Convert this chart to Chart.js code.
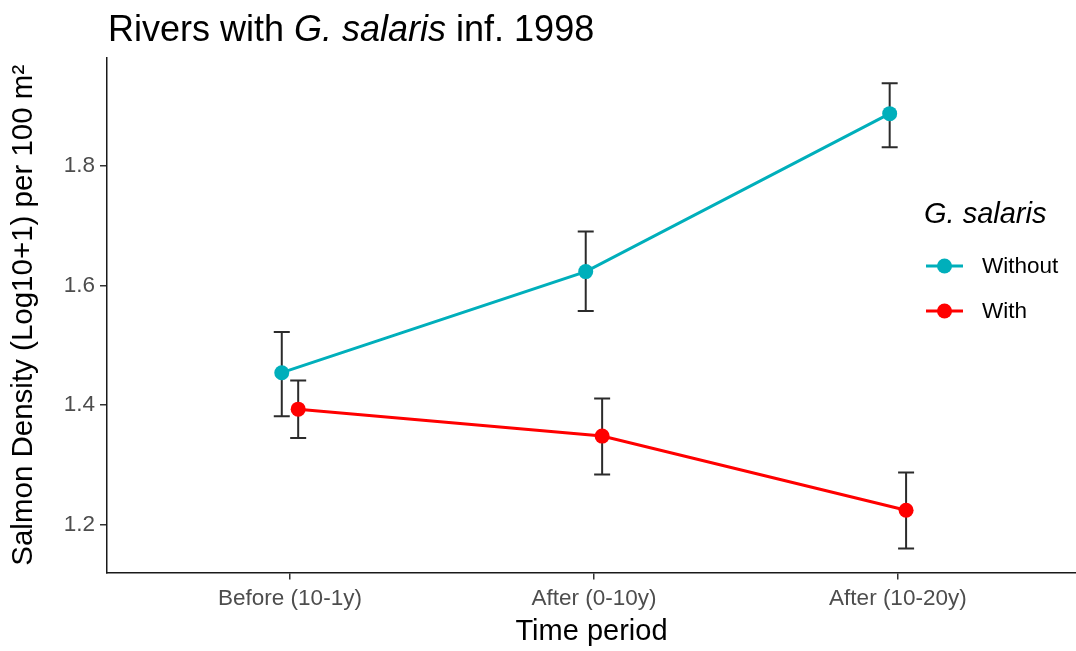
<!DOCTYPE html>
<html>
<head>
<meta charset="utf-8">
<script src="https://cdn.jsdelivr.net/npm/chart.js@4.4.1/dist/chart.umd.min.js"></script>
<style>
  html, body { margin: 0; padding: 0; background: #fff; overflow: hidden; }
  #wrap { width: 1076px; height: 651px; position: relative; }
</style>
</head>
<body>
<div id="wrap"><canvas id="c" width="1076" height="651"></canvas></div>
<script>
// Time periods on the x axis
const periods = ['Before (10-1y)', 'After (0-10y)', 'After (10-20y)'];
// Group names (legend)
const groups = ['Without', 'With'];

// Mean salmon density and error-bar limits, rivers without G. salaris
const withoutMean = [1.454, 1.623, 1.887];
const withoutLow  = [1.381, 1.557, 1.831];
const withoutHigh = [1.522, 1.690, 1.938];

// Mean salmon density and error-bar limits, rivers with G. salaris
const withMean = [1.393, 1.348, 1.224];
const withLow  = [1.345, 1.284, 1.160];
const withHigh = [1.441, 1.411, 1.287];

// Y axis tick values
const yTicks = [1.2, 1.4, 1.6, 1.8];

const colors = ['#00AFBB', '#FF0000'];
const dodge = [-0.027, 0.027];
const FONT = '"Liberation Sans", Arial, Helvetica, sans-serif';

const means = [withoutMean, withMean];
const lows = [withoutLow, withLow];
const highs = [withoutHigh, withHigh];

const datasets = groups.map((g, k) => ({
  label: g,
  data: means[k].map((v, i) => ({ x: i + 1 + dodge[k], y: v })),
  showLine: true,
  borderColor: colors[k],
  backgroundColor: colors[k],
  borderWidth: 3,
  pointRadius: 7.5,
  pointHoverRadius: 7.5,
  pointBorderWidth: 0,
  pointBackgroundColor: colors[k],
  order: k
}));

// Error bars drawn underneath lines and points
const errorBars = {
  id: 'errorBars',
  beforeDatasetsDraw(chart) {
    const { ctx, scales: { x, y } } = chart;
    ctx.save();
    ctx.strokeStyle = '#2b2b2b';
    ctx.lineWidth = 2;
    const half = 8;
    groups.forEach((g, k) => {
      periods.forEach((p, i) => {
        const px = x.getPixelForValue(i + 1 + dodge[k]);
        const y1 = y.getPixelForValue(lows[k][i]);
        const y2 = y.getPixelForValue(highs[k][i]);
        ctx.beginPath();
        ctx.moveTo(px, y1); ctx.lineTo(px, y2);
        ctx.moveTo(px - half, y1); ctx.lineTo(px + half, y1);
        ctx.moveTo(px - half, y2); ctx.lineTo(px + half, y2);
        ctx.stroke();
      });
    });
    ctx.restore();
  }
};

// Title with italic species name, and the legend inside the panel
const decorations = {
  id: 'decorations',
  afterDraw(chart) {
    const ctx = chart.ctx;
    ctx.save();
    ctx.fillStyle = '#000';
    ctx.textBaseline = 'alphabetic';
    ctx.textAlign = 'left';
    const parts = [
      ['Rivers with ', 'normal'],
      ['G. salaris', 'italic'],
      [' inf. 1998', 'normal']
    ];
    let tx = 108;
    parts.forEach(([t, st]) => {
      ctx.font = st + ' 36px ' + FONT;
      ctx.fillText(t, tx, 41);
      tx += ctx.measureText(t).width;
    });

    // legend
    ctx.font = 'italic 29px ' + FONT;
    ctx.fillText('G. salaris', 924, 223);
    groups.forEach((g, k) => {
      const ky = 266 + k * 45;
      ctx.strokeStyle = colors[k];
      ctx.lineWidth = 3;
      ctx.beginPath();
      ctx.moveTo(926, ky); ctx.lineTo(963, ky);
      ctx.stroke();
      ctx.fillStyle = colors[k];
      ctx.beginPath();
      ctx.arc(944.5, ky, 7.5, 0, Math.PI * 2);
      ctx.fill();
      ctx.fillStyle = '#000';
      ctx.font = '22.5px ' + FONT;
      ctx.textBaseline = 'middle';
      ctx.fillText(g, 982, ky + 1);
      ctx.textBaseline = 'alphabetic';
    });
    ctx.restore();
  }
};

new Chart(document.getElementById('c'), {
  type: 'scatter',
  data: { datasets },
  plugins: [errorBars, decorations],
  options: {
    responsive: false,
    animation: false,
    devicePixelRatio: 1,
    layout: { autoPadding: false, padding: { top: 58, left: 0, right: 0, bottom: 0 } },
    plugins: {
      legend: { display: false },
      title: { display: false },
      tooltip: { enabled: false }
    },
    scales: {
      x: {
        type: 'linear',
        min: 0.398,
        max: 3.586,
        afterBuildTicks: (s) => { s.ticks = periods.map((p, i) => ({ value: i + 1 })); },
        afterFit: (s) => { s.height = 78.5; },
        ticks: {
          autoSkip: false,
          maxRotation: 0,
          padding: 6,
          color: '#4D4D4D',
          font: { family: FONT, size: 22.5 },
          callback: (v) => periods[Math.round(v) - 1]
        },
        grid: {
          display: true,
          drawOnChartArea: false,
          drawTicks: true,
          tickLength: 7,
          color: '#333333',
          lineWidth: 1.5
        },
        border: { display: true, color: '#1a1a1a', width: 1.5 },
        title: {
          display: true,
          text: 'Time period',
          color: '#000',
          font: { family: FONT, size: 29 },
          padding: { top: 0, bottom: 2 }
        }
      },
      y: {
        type: 'linear',
        min: 1.12,
        max: 1.98,
        afterBuildTicks: (s) => { s.ticks = yTicks.map(v => ({ value: v })); },
        afterFit: (s) => { s.width = 107; },
        ticks: {
          padding: 5,
          color: '#4D4D4D',
          font: { family: FONT, size: 22.5 },
          callback: (v) => Number(v).toFixed(1)
        },
        grid: {
          display: true,
          drawOnChartArea: false,
          drawTicks: true,
          tickLength: 7,
          color: '#333333',
          lineWidth: 1.5
        },
        border: { display: true, color: '#1a1a1a', width: 1.5 },
        title: {
          display: true,
          text: 'Salmon Density (Log10+1) per 100 m²',
          color: '#000',
          font: { family: FONT, size: 29.5 },
          padding: { top: 6, bottom: 0 }
        }
      }
    }
  }
});
</script>
</body>
</html>
